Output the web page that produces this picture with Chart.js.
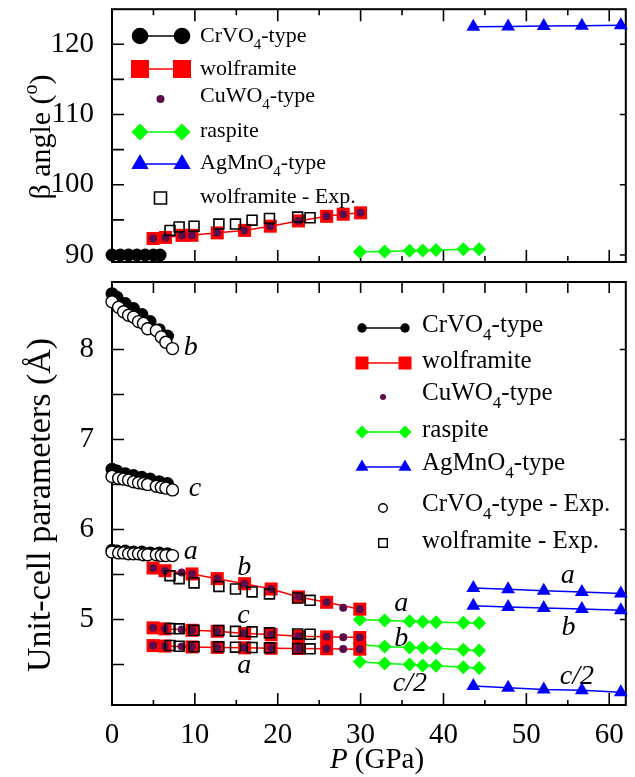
<!DOCTYPE html>
<html>
<head>
<meta charset="utf-8">
<script src="https://cdn.jsdelivr.net/npm/chart.js@4.4.1/dist/chart.umd.min.js"></script>
<style>
  html, body { margin: 0; padding: 0; background: #fff; }
  #wrap { position: relative; width: 635px; height: 777px; }
  #wrap canvas { position: absolute; left: 0; top: 0; }
</style>
</head>
<body>
<div id="wrap">
  <canvas id="cellChart" width="635" height="777"></canvas>
  <canvas id="betaChart" width="635" height="777"></canvas>
</div>
<script>
// tick labels
const xTicks = [0, 10, 20, 30, 40, 50, 60];
const betaTicks = [90, 100, 110, 120];
const cellTicks = [5, 6, 7, 8];

// beta angle panel
const crvo4TopP = [0, 1, 2, 3, 4, 5, 5.8];
const crvo4Beta = [90, 90, 90, 90, 90, 90, 90];
const wolfTopP = [4.95, 6.45, 8.45, 9.65, 12.7, 16.0, 19.1, 22.5, 25.9, 27.9, 30.0];
const wolfBeta = [92.35, 92.5, 92.8, 92.8, 93.15, 93.5, 94.1, 94.85, 95.5, 95.8, 96.0];
const cuTopP = [4.95, 6.45, 8.45, 9.65, 12.7, 16.0, 19.1, 22.5, 25.9, 27.9, 30.0];
const cuBeta = [92.35, 92.5, 92.8, 92.8, 93.15, 93.5, 94.1, 94.85, 95.5, 95.8, 96.0];
const raspP = [29.9, 32.9, 35.9, 37.5, 39.1, 42.4, 44.3];
const raspBeta = [90.45, 90.5, 90.6, 90.65, 90.7, 90.8, 90.8];
const agP = [43.6, 47.8, 52.1, 56.7, 61.4];
const agBeta = [122.5, 122.55, 122.6, 122.65, 122.7];
const wolfExpP = [7.0, 8.1, 9.9, 12.9, 14.9, 16.9, 19.0, 22.4, 23.9];
const wolfExpBeta = [93.5, 94.0, 94.1, 94.4, 94.4, 94.95, 95.2, 95.4, 95.3];

// unit-cell panel
const crvo4P = [0, 0.6, 1.6, 2.6, 3.6, 4.6, 5.7, 6.7];
const crvo4B = [8.62, 8.58, 8.51, 8.455, 8.39, 8.31, 8.22, 8.15];
const crvo4C = [6.67, 6.65, 6.62, 6.60, 6.58, 6.56, 6.53, 6.51];
const crvo4A = [5.77, 5.76, 5.76, 5.75, 5.75, 5.74, 5.74, 5.73];
const crvo4ExpP = [0, 0.8, 1.4, 2.0, 2.6, 3.2, 3.8, 4.3, 5.35, 5.95, 6.5, 7.3];
const crvo4ExpB = [8.53, 8.47, 8.42, 8.38, 8.36, 8.31, 8.29, 8.23, 8.21, 8.14, 8.08, 8.01];
const crvo4ExpC = [6.59, 6.57, 6.56, 6.55, 6.53, 6.52, 6.51, 6.50, 6.48, 6.47, 6.46, 6.44];
const crvo4ExpA = [5.75, 5.74, 5.74, 5.73, 5.73, 5.73, 5.72, 5.72, 5.72, 5.71, 5.71, 5.71];
const wolfP = [4.95, 6.4, 9.65, 12.7, 16.0, 19.2, 22.5, 25.9, 29.9];
const wolfB = [5.572, 5.542, 5.506, 5.454, 5.398, 5.339, 5.251, 5.191, 5.115];
const wolfC = [4.907, 4.896, 4.880, 4.869, 4.844, 4.833, 4.814, 4.807, 4.80];
const wolfA = [4.71, 4.705, 4.695, 4.69, 4.685, 4.68, 4.678, 4.675, 4.67];
const cuP = [4.95, 6.4, 8.4, 9.65, 12.7, 16.0, 19.2, 22.5, 25.9, 27.9, 29.9];
const cuB = [5.572, 5.542, 5.523, 5.506, 5.454, 5.398, 5.339, 5.251, 5.191, 5.13, 5.115];
const cuC = [4.907, 4.896, 4.888, 4.880, 4.869, 4.844, 4.833, 4.814, 4.807, 4.803, 4.80];
const cuA = [4.71, 4.705, 4.70, 4.695, 4.69, 4.685, 4.68, 4.678, 4.675, 4.672, 4.67];
const wolfExpB = [5.487, 5.454, 5.406, 5.368, 5.339, 5.306, 5.284, 5.239, 5.213];
const wolfExpC = [4.899, 4.896, 4.880, 4.877, 4.869, 4.863, 4.852, 4.840, 4.836];
const wolfExpA = [4.711, 4.703, 4.696, 4.696, 4.692, 4.689, 4.685, 4.677, 4.674];
const raspA = [5.00, 4.99, 4.98, 4.975, 4.97, 4.965, 4.96];
const raspB = [4.72, 4.70, 4.69, 4.685, 4.68, 4.665, 4.655];
const raspC2 = [4.53, 4.51, 4.50, 4.49, 4.485, 4.47, 4.46];
const agA = [5.35, 5.335, 5.32, 5.305, 5.29];
const agB = [5.154, 5.14, 5.129, 5.118, 5.102];
const agC2 = [4.26, 4.242, 4.223, 4.215, 4.193];

// axis letters next to the curves
const annoText = ['b', 'c', 'a', 'b', 'c', 'a', 'a', 'b', 'c/2', 'a', 'b', 'c/2'];
const annoP = [9.5, 10.0, 9.5, 15.95, 15.85, 15.95, 34.9, 34.9, 35.95, 55.0, 55.1, 56.1];
const annoV = [7.937, 6.374, 5.675, 5.49, 4.962, 4.408, 5.091, 4.703, 4.201, 5.409, 4.833, 4.278];

const SERIF = '"Liberation Serif", "Times New Roman", serif';
const RED = '#ff0000', PURPLE = '#5c0c4c', GREEN = '#00ff00', BLUE = '#0000ff';

function pts(xs, ys) {
  return xs.map((p, i) => ({ x: p, y: ys[i] }));
}

// dataset styles
function crvo4Set(d) {
  return { data: d, borderColor: '#000', borderWidth: 1.5, pointStyle: 'circle', pointRadius: 6.5,
    pointBackgroundColor: '#000', pointBorderWidth: 0, order: 4, clip: false };
}
function wolfSet(d) {
  return { data: d, borderColor: RED, borderWidth: 1.5, pointStyle: 'rect', pointRadius: 9.2,
    pointBackgroundColor: RED, pointBorderWidth: 0, order: 3, clip: false };
}
function cuSet(d) {
  return { data: d, showLine: false, pointStyle: 'circle', pointRadius: 4,
    pointBackgroundColor: PURPLE, pointBorderWidth: 0, order: 2, clip: false };
}
function raspSet(d) {
  return { data: d, borderColor: GREEN, borderWidth: 1.5, pointStyle: 'rectRot', pointRadius: 7,
    pointBackgroundColor: GREEN, pointBorderWidth: 0, order: 5, clip: false };
}
function agSet(d) {
  return { data: d, borderColor: BLUE, borderWidth: 1.5, pointStyle: 'triangle', pointRadius: 8,
    pointBackgroundColor: BLUE, pointBorderWidth: 0, order: 6, clip: false };
}
function wolfExpSet(d) {
  return { data: d, showLine: false, pointStyle: 'rect', pointRadius: 7,
    pointBackgroundColor: 'rgba(0,0,0,0)', pointBorderColor: '#000', pointBorderWidth: 1.6, order: 1, clip: false };
}
function crvo4ExpSet(d) {
  return { data: d, showLine: false, pointStyle: 'circle', pointRadius: 6,
    pointBackgroundColor: '#fff', pointBorderColor: '#000', pointBorderWidth: 1.4, order: 0, clip: false };
}

// text with sub/superscripts, cx = centre (or left), y = baseline
function richText(ctx, parts, cx, y, size, align) {
  const fontOf = p => (p.italic ? 'italic ' : '') + ((p.sub || p.sup) ? Math.round(size * 0.68) : size) + 'px ' + SERIF;
  let w = 0;
  parts.forEach(p => { ctx.font = fontOf(p); p.w = ctx.measureText(p.t).width; w += p.w; });
  let x = align === 'center' ? cx - w / 2 : cx;
  ctx.textAlign = 'left';
  ctx.textBaseline = 'alphabetic';
  parts.forEach(p => {
    ctx.font = fontOf(p);
    const dy = p.sub ? size * 0.33 : (p.sup ? -size * 0.42 : 0);
    ctx.fillText(p.t, x, y + dy);
    x += p.w;
  });
}

function marker(ctx, style, x, y, r, fill, stroke, lw) {
  ctx.beginPath();
  if (style === 'circle') ctx.arc(x, y, r, 0, Math.PI * 2);
  else if (style === 'square') ctx.rect(x - r, y - r, 2 * r, 2 * r);
  else if (style === 'diamond') { ctx.moveTo(x - r, y); ctx.lineTo(x, y - r); ctx.lineTo(x + r, y); ctx.lineTo(x, y + r); ctx.closePath(); }
  else if (style === 'triangle') { ctx.moveTo(x, y - r); ctx.lineTo(x + r * 0.866, y + r / 2); ctx.lineTo(x - r * 0.866, y + r / 2); ctx.closePath(); }
  if (fill) { ctx.fillStyle = fill; ctx.fill(); }
  if (stroke) { ctx.strokeStyle = stroke; ctx.lineWidth = lw; ctx.stroke(); }
}

const sub4 = name => [{ t: name }, { t: '4', sub: true }, { t: '-type' }];

// border and inward ticks
function framePlugin(cfg) {
  return {
    id: 'frame',
    beforeDatasetsDraw(chart) {
      const { ctx, chartArea: a } = chart;
      const xs = chart.scales.x, ys = chart.scales.y;
      ctx.save();
      ctx.strokeStyle = '#000';
      ctx.lineWidth = 1.6;
      ctx.beginPath();
      for (let v = 5; v <= 60; v += 5) {
        const px = xs.getPixelForValue(v);
        const major = v % 10 === 0;
        const lt = major ? cfg.topMajor : cfg.topMinor;
        const lb = major ? cfg.botMajor : cfg.botMinor;
        ctx.moveTo(px, a.top); ctx.lineTo(px, a.top + lt);
        ctx.moveTo(px, a.bottom); ctx.lineTo(px, a.bottom - lb);
      }
      for (let v = cfg.yStart; v < ys.max - 1e-6; v += cfg.yMinor) {
        const py = ys.getPixelForValue(v);
        const q = v / cfg.yMajor;
        ctx.moveTo(a.left, py); ctx.lineTo(a.left + cfg.left, py);
        if (Math.abs(q - Math.round(q)) < 1e-6) { ctx.moveTo(a.right, py); ctx.lineTo(a.right - cfg.right, py); }
      }
      ctx.stroke();
      ctx.lineWidth = 2;
      ctx.strokeRect(a.left, a.top, a.right - a.left, a.bottom - a.top);
      ctx.restore();
    }
  };
}

// legend drawn by hand (needs subscripts)
function legendPlugin(cfg) {
  return {
    id: 'customLegend',
    afterDraw(chart) {
      const ctx = chart.ctx;
      ctx.save();
      cfg.items.forEach((it, i) => {
        const y = cfg.rowY[i];
        if (it.line) {
          ctx.beginPath();
          ctx.moveTo(cfg.xL, y); ctx.lineTo(cfg.xR, y);
          ctx.strokeStyle = it.line; ctx.lineWidth = 1.5; ctx.stroke();
          marker(ctx, it.style, cfg.xL, y, it.r, it.fill, it.stroke, it.lw);
          marker(ctx, it.style, cfg.xR, y, it.r, it.fill, it.stroke, it.lw);
        } else {
          marker(ctx, it.style, cfg.xS, y, it.r, it.fill, it.stroke, it.lw);
        }
        ctx.fillStyle = '#000';
        richText(ctx, it.label.map(p => Object.assign({}, p)), cfg.textX, cfg.baseY[i], cfg.size, 'left');
      });
      ctx.restore();
    }
  };
}

function titlePlugin(cfg) {
  return {
    id: 'titles',
    afterDraw(chart) {
      const ctx = chart.ctx;
      ctx.save();
      ctx.fillStyle = '#000';
      if (cfg.yTitle) {
        ctx.save();
        ctx.translate(cfg.yTitle.x, cfg.yTitle.y);
        ctx.rotate(-Math.PI / 2);
        richText(ctx, cfg.yTitle.parts, 0, 0, cfg.yTitle.size, 'center');
        ctx.restore();
      }
      if (cfg.xTitle) richText(ctx, cfg.xTitle.parts, cfg.xTitle.x, cfg.xTitle.y, 29, 'center');
      if (cfg.anno) {
        const xs = chart.scales.x, ys = chart.scales.y;
        ctx.font = 'italic 28px ' + SERIF;
        ctx.textAlign = 'center';
        ctx.textBaseline = 'alphabetic';
        annoText.forEach((t, i) => ctx.fillText(t, xs.getPixelForValue(annoP[i]), ys.getPixelForValue(annoV[i])));
      }
      ctx.restore();
    }
  };
}

function axes(yMin, yMax, yTickVals, showX) {
  return {
    x: {
      type: 'linear', min: 0, max: 62, display: showX,
      afterBuildTicks: s => { s.ticks = xTicks.map(v => ({ value: v })); },
      afterFit: s => { s.height = showX ? 72 : 0; s.paddingLeft = 0; s.paddingRight = 0; },
      grid: { display: false }, border: { display: false },
      ticks: { color: '#000', font: { family: SERIF, size: 29 }, padding: 5, maxRotation: 0, autoSkip: false }
    },
    y: {
      type: 'linear', min: yMin, max: yMax,
      afterBuildTicks: s => { s.ticks = yTickVals.map(v => ({ value: v })); },
      afterFit: s => { s.width = 112; s.paddingTop = 0; s.paddingBottom = 0; },
      grid: { display: false }, border: { display: false },
      ticks: { color: '#000', font: { family: SERIF, size: 29 }, padding: 10 }
    }
  };
}

const common = {
  responsive: false, animation: false, events: [],
  plugins: { legend: { display: false }, tooltip: { enabled: false } }
};

// top panel: beta angle
new Chart(document.getElementById('betaChart'), {
  type: 'line',
  data: {
    datasets: [
      crvo4Set(pts(crvo4TopP, crvo4Beta)),
      wolfSet(pts(wolfTopP, wolfBeta)),
      cuSet(pts(cuTopP, cuBeta)),
      raspSet(pts(raspP, raspBeta)),
      agSet(pts(agP, agBeta)),
      wolfExpSet(pts(wolfExpP, wolfExpBeta))
    ]
  },
  options: Object.assign({}, common, {
    layout: { padding: { left: 0, right: 2, top: 7, bottom: 515 } },
    scales: axes(89, 125, betaTicks, false)
  }),
  plugins: [
    framePlugin({ topMajor: 12, topMinor: 6, botMajor: 12, botMinor: 6, yStart: 90, yMinor: 5, yMajor: 10, left: 12, right: 6 }),
    legendPlugin({
      xL: 140, xR: 182, xS: 160.5, textX: 200, size: 22,
      rowY: [36, 69, 99, 132, 164, 198],
      baseY: [42, 75, 102, 137, 169, 203],
      items: [
        { label: sub4('CrVO'), line: '#000', style: 'circle', r: 8.3, fill: '#000' },
        { label: [{ t: 'wolframite' }], line: RED, style: 'square', r: 9, fill: RED },
        { label: sub4('CuWO'), style: 'circle', r: 4, fill: PURPLE },
        { label: [{ t: 'raspite' }], line: GREEN, style: 'diamond', r: 8.5, fill: GREEN },
        { label: sub4('AgMnO'), line: BLUE, style: 'triangle', r: 10, fill: BLUE },
        { label: [{ t: 'wolframite - Exp.' }], style: 'square', r: 6, stroke: '#000', lw: 1.6 }
      ]
    }),
    titlePlugin({ yTitle: { x: 50, y: 137, size: 30, parts: [{ t: 'β angle (' }, { t: 'o', sup: true }, { t: ')' }] } })
  ]
});

// bottom panel: unit-cell parameters
new Chart(document.getElementById('cellChart'), {
  type: 'line',
  data: {
    datasets: [
      crvo4Set(pts(crvo4P, crvo4B)), crvo4Set(pts(crvo4P, crvo4C)), crvo4Set(pts(crvo4P, crvo4A)),
      wolfSet(pts(wolfP, wolfB)), wolfSet(pts(wolfP, wolfC)), wolfSet(pts(wolfP, wolfA)),
      cuSet(pts(cuP, cuB)), cuSet(pts(cuP, cuC)), cuSet(pts(cuP, cuA)),
      raspSet(pts(raspP, raspA)), raspSet(pts(raspP, raspB)), raspSet(pts(raspP, raspC2)),
      agSet(pts(agP, agA)), agSet(pts(agP, agB)), agSet(pts(agP, agC2)),
      crvo4ExpSet(pts(crvo4ExpP, crvo4ExpB)), crvo4ExpSet(pts(crvo4ExpP, crvo4ExpC)), crvo4ExpSet(pts(crvo4ExpP, crvo4ExpA)),
      wolfExpSet(pts(wolfExpP, wolfExpB)), wolfExpSet(pts(wolfExpP, wolfExpC)), wolfExpSet(pts(wolfExpP, wolfExpA))
    ]
  },
  options: Object.assign({}, common, {
    layout: { padding: { left: 0, right: 2, top: 282, bottom: 0 } },
    scales: axes(4.05, 8.75, cellTicks, true)
  }),
  plugins: [
    framePlugin({ topMajor: 11, topMinor: 11, botMajor: 12, botMinor: 5, yStart: 4.5, yMinor: 0.5, yMajor: 1, left: 12, right: 6 }),
    legendPlugin({
      xL: 362, xR: 405, xS: 383, textX: 422, size: 25,
      rowY: [328, 363, 397, 432, 467, 508, 543],
      baseY: [332, 368, 400, 437, 470, 511, 548],
      items: [
        { label: sub4('CrVO'), line: '#000', style: 'circle', r: 4.7, fill: '#000' },
        { label: [{ t: 'wolframite' }], line: RED, style: 'square', r: 6.5, fill: RED },
        { label: sub4('CuWO'), style: 'circle', r: 3, fill: PURPLE },
        { label: [{ t: 'raspite' }], line: GREEN, style: 'diamond', r: 6.5, fill: GREEN },
        { label: sub4('AgMnO'), line: BLUE, style: 'triangle', r: 7.5, fill: BLUE },
        { label: [{ t: 'CrVO' }, { t: '4', sub: true }, { t: '-type - Exp.' }], style: 'circle', r: 4.3, fill: '#fff', stroke: '#000', lw: 1.4 },
        { label: [{ t: 'wolframite - Exp.' }], style: 'square', r: 4.3, stroke: '#000', lw: 1.4 }
      ]
    }),
    titlePlugin({
      yTitle: { x: 50, y: 505, size: 34, parts: [{ t: 'Unit-cell parameters (Å)' }] },
      xTitle: { x: 377, y: 768, parts: [{ t: 'P', italic: true }, { t: ' (GPa)' }] },
      anno: true
    })
  ]
});
</script>
</body>
</html>
